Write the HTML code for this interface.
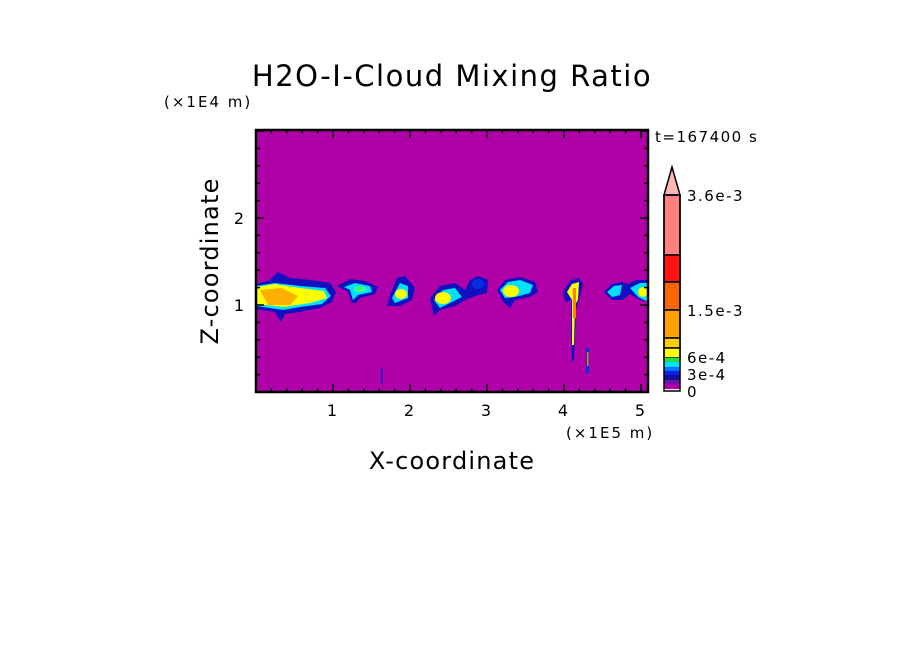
<!DOCTYPE html>
<html><head><meta charset="utf-8"><style>
html,body{margin:0;padding:0;background:#fff;}
svg text{font-family:"DejaVu Sans","Liberation Sans",sans-serif;fill:#000;}
</style></head><body>
<svg id="s" width="904" height="654" viewBox="0 0 904 654" xmlns="http://www.w3.org/2000/svg">
<rect width="904" height="654" fill="#fff"/>
<text x="452" y="86" font-size="29" letter-spacing="1.5" text-anchor="middle">H2O-I-Cloud Mixing Ratio</text>
<text x="164" y="107" font-size="15" letter-spacing="2">(×1E4 m)</text>
<text x="655" y="142" font-size="15" letter-spacing="1.5">t=167400 s</text>
<rect x="256" y="130" width="392" height="262" fill="#b000a8"/>
<g id="blobs">
<path d="M256,284 L270,280 L278,272 L290,278 L310,280 L330,283 L336,292 L332,302 L320,308 L300,312 L285,314 L281,322 L275,312 L256,309 Z" fill="#1010c0"/>
<path d="M256,286 L275,283 L300,286 L325,288 L331,296 L322,304 L300,307 L283,310 L256,306 Z" fill="#00e0ff"/>
<path d="M256,287 L275,284 L300,288 L324,291 L327,298 L310,303 L284,307 L256,304 Z" fill="#ffff00"/>
<path d="M260,290 L282,288 L298,296 L290,305 L268,305 Z" fill="#ffb000"/>
<path d="M337,286 L350,279 L365,281 L378,287 L375,294 L360,298 L356,303 L352,303 L348,292 Z" fill="#1010c0"/>
<path d="M344,287 L355,283 L370,286 L372,292 L358,295 L353,300 L350,290 Z" fill="#00e0ff"/>
<ellipse cx="360" cy="289" rx="6" ry="3" fill="#40ff80"/>
<path d="M397,278 L405,276 L415,288 L412,300 L400,306 L387,306 L390,295 Z" fill="#1010c0"/>
<path d="M400,283 L408,286 L408,298 L395,303 L392,298 Z" fill="#00e0ff"/>
<ellipse cx="401" cy="294" rx="6" ry="5" fill="#ffff00"/>
<path d="M430,298 L440,286 L455,283 L465,290 L470,280 L478,276 L488,280 L487,293 L478,295 L465,300 L455,306 L440,310 L434,316 Z" fill="#1010c0"/>
<path d="M434,300 L443,290 L455,288 L462,297 L452,302 L440,308 Z" fill="#00e0ff"/>
<ellipse cx="443" cy="298" rx="8" ry="6" fill="#ffff00"/>
<ellipse cx="478" cy="284" rx="6" ry="5" fill="#0030e0"/>
<path d="M497,290 L505,280 L520,277 L535,282 L538,292 L530,297 L515,300 L510,308 L504,303 Z" fill="#1010c0"/>
<path d="M500,290 L508,282 L520,280 L533,285 L530,293 L515,297 L505,298 Z" fill="#00e0ff"/>
<ellipse cx="511" cy="291" rx="8" ry="6" fill="#ffff00"/>
<path d="M563,292 L570,281 L579,278 L583,284 L579,300 L576,310 L575,340 L574,360 L572,362 L571,330 L571,300 L565,302 Z" fill="#1010c0"/>
<path d="M567,292 L572,284 L579,282 L578,300 L575,305 L574,345 L572,345 L572,300 Z" fill="#ffff00"/>
<rect x="573" y="288" width="3" height="30" fill="#ff8000"/>
<rect x="586" y="348" width="3" height="25" fill="#0030e0"/>
<rect x="587" y="352" width="1.5" height="14" fill="#ff8000"/>
<rect x="381" y="368" width="1.5" height="16" fill="#1010c0"/>
<path d="M604,292 L612,284 L622,282 L628,284 L636,280 L648,280 L648,302 L640,300 L630,294 L622,300 L612,300 Z" fill="#1010c0"/>
<path d="M607,292 L614,286 L622,285 L620,295 L612,297 Z" fill="#00e0ff"/>
<path d="M630,288 L640,283 L648,283 L648,302 L638,297 Z" fill="#00e0ff"/>
<ellipse cx="643" cy="292" rx="5" ry="5" fill="#ffff00"/>
</g>
<g id="ticks" stroke="#000" stroke-width="1.5"></g>
<rect x="256" y="130" width="392" height="262" fill="none" stroke="#000" stroke-width="2.5"/>
<g font-size="16">
<text x="332" y="416" text-anchor="middle">1</text>
<text x="409" y="416" text-anchor="middle">2</text>
<text x="486" y="416" text-anchor="middle">3</text>
<text x="563" y="416" text-anchor="middle">4</text>
<text x="640" y="416" text-anchor="middle">5</text>
<text x="244" y="311" text-anchor="end">1</text>
<text x="244" y="224" text-anchor="end">2</text>
</g>
<text x="566" y="438" font-size="15" letter-spacing="2">(×1E5 m)</text>
<text x="452" y="469" font-size="24" letter-spacing="1.2" text-anchor="middle">X-coordinate</text>
<text transform="translate(218,261) rotate(-90)" font-size="24" letter-spacing="1.2" text-anchor="middle">Z-coordinate</text>
<g stroke="#000" stroke-width="1.5">
<path d="M664,195 L672,167 L680,195 Z" fill="#ffb8b8"/>
<rect x="664" y="195" width="16" height="60" fill="#ff8080"/>
<rect x="664" y="255" width="16" height="27" fill="#ff1414"/>
<rect x="664" y="282" width="16" height="28" fill="#ff6600"/>
<rect x="664" y="310" width="16" height="28" fill="#ffa000"/>
<rect x="664" y="338" width="16" height="10" fill="#ffd000"/>
<rect x="664" y="348" width="16" height="10" fill="#ffff00"/>
</g>
<rect x="664" y="358" width="16" height="4" fill="#20e040"/>
<rect x="664" y="362" width="16" height="5" fill="#00e0ff"/>
<rect x="664" y="367" width="16" height="4" fill="#0070ff"/>
<rect x="664" y="371" width="16" height="4" fill="#1020e0"/>
<rect x="664" y="375" width="16" height="5" fill="#1010a0"/>
<rect x="664" y="380" width="16" height="4" fill="#7010b0"/>
<rect x="664" y="384" width="16" height="5" fill="#b000a8"/>
<rect x="664" y="195" width="16" height="196" fill="none" stroke="#000" stroke-width="1.5"/>
<g font-size="15" letter-spacing="1.5">
<text x="687" y="201">3.6e-3</text>
<text x="687" y="316">1.5e-3</text>
<text x="687" y="363">6e-4</text>
<text x="687" y="380">3e-4</text>
<text x="687" y="397">0</text>
</g>
</svg>
<script>
var g=document.getElementById('ticks'),d='';
for(var i=1;i<=26;i++){var x=256+i*15.4;if(x>647)break;var L=(i%5==0)?8:4;d+='M'+x+',392v-'+L+'M'+x+',130v'+L;}
for(var j=1;j<=15;j++){var y=392-j*17.4;if(y<131)break;var L=(j%5==0)?8:4;d+='M256,'+y+'h'+L+'M648,'+y+'h-'+L;}
var p=document.createElementNS('http://www.w3.org/2000/svg','path');p.setAttribute('d',d);g.appendChild(p);
</script>
</body></html>
